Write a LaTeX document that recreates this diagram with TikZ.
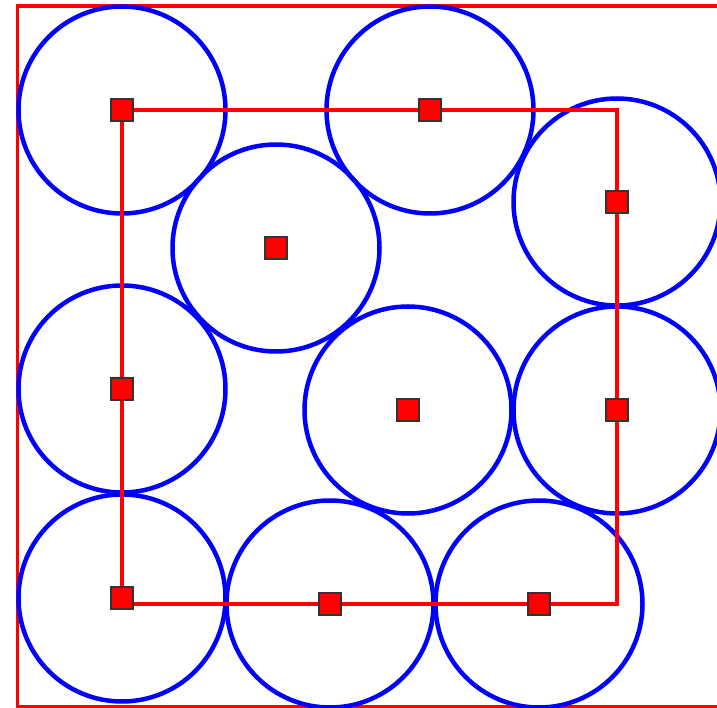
\documentclass[tikz,border=0pt]{standalone}
\begin{document}
\begin{tikzpicture}[x=1pt,y=-1pt,
  ring/.style={circle,draw=blue,line width=4.5pt,minimum size=207pt,inner sep=0pt},
  marker/.style={rectangle,fill=red,draw=black!80,line width=1.3pt,minimum size=22pt,inner sep=0pt},
  route/.style={draw=red,line width=4.5pt},
  frame/.style={draw=red,line width=3.5pt}]
\useasboundingbox (0,0) rectangle (717,708);
\clip (0,0) rectangle (717,708);
\draw[frame] (17.5,6) rectangle (730,706.5);
\foreach \n/\x/\y in {1/122/110,2/430/110,3/617/202,4/276/248,5/122/389,6/408/410,7/617/410,8/122/598,9/330/604,10/539/604}{
  \node[ring] (c\n) at (\x,\y) {};
}
\coordinate (p1) at (122,110);
\coordinate (p2) at (617,110);
\coordinate (p3) at (617,604);
\coordinate (p4) at (122,604);
\draw[route,line join=miter] (p1) -- (p2) -- (p3) -- (p4) -- cycle;
\foreach \n/\x/\y in {1/122/110,2/430/110,3/617/202,4/276/248,5/122/389,6/408/410,7/617/410,8/122/598,9/330/604,10/539/604}{
  \node[marker] (s\n) at (\x,\y) {};
}
\end{tikzpicture}
\end{document}
